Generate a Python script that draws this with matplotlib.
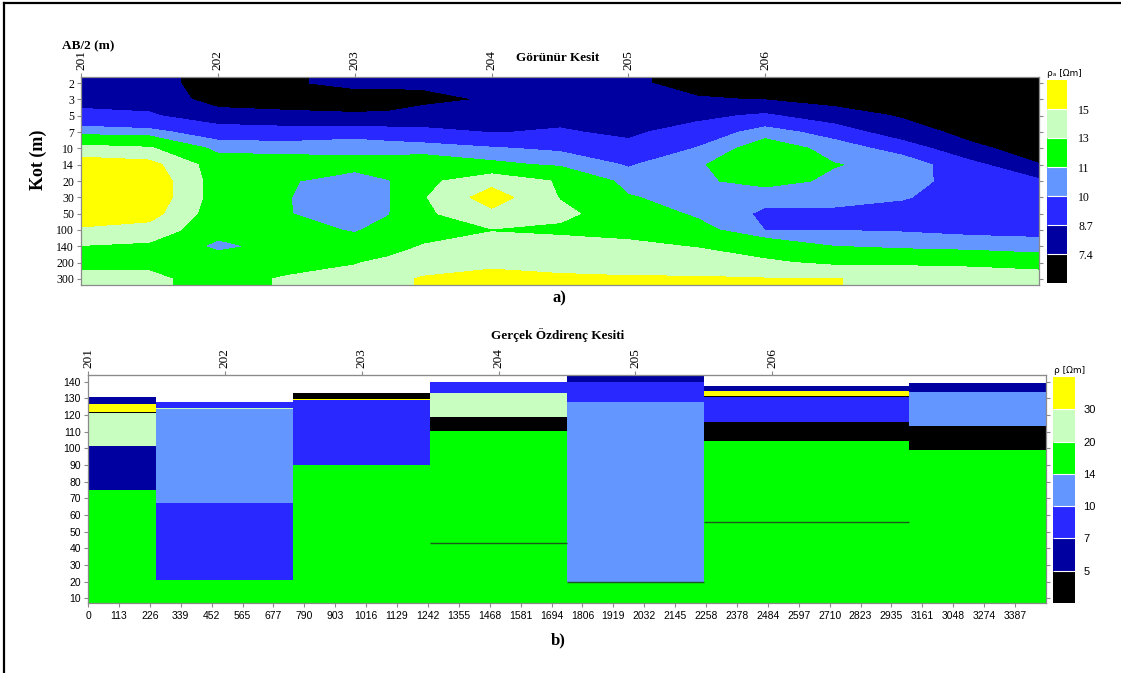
#!/usr/bin/env python3

# Resistivity sections along the 201-206 profile
# a) apparent resistivity pseudo-section, b) layered true resistivity section

import numpy as np
import matplotlib
matplotlib.use("Agg")
import matplotlib.pyplot as plt
from matplotlib.colors import ListedColormap, BoundaryNorm
from matplotlib.cm import ScalarMappable
from matplotlib.lines import Line2D

plt.rcParams['font.family'] = ['Liberation Serif', 'DejaVu Serif']

# station names and their distance along the profile (m)
stations = ['201', '202', '203', '204', '205', '206']
station_x = [0, 500, 1000, 1500, 2000, 2500]

# --- a) apparent resistivity (rows = AB/2 levels, columns = grid_x) ---
ab2_labels = ['2', '3', '5', '7', '10', '14', '20', '30', '50', '100', '140', '200', '300']
grid_x = [0, 250, 500, 750, 1000, 1125, 1250, 1500, 1750, 2000, 2250, 2500, 2750, 3000, 3250, 3500]
rho_a = [
    [7.9, 7.9, 6.8, 7.3, 7.6, 7.6, 7.6, 7.8, 8.0, 7.6, 7.0, 6.9, 6.8, 6.6, 6.5, 6.4],
    [8.2, 8.2, 6.9, 7.0, 7.0, 7.0, 7.1, 7.5, 8.2, 7.9, 7.5, 7.35, 7.0, 6.9, 6.6, 6.5],
    [9.1, 8.85, 7.9, 7.6, 7.5, 7.55, 7.9, 8.1, 8.4, 8.2, 8.4, 8.9, 7.9, 7.3, 6.8, 6.6],
    [10.5, 10.3, 9.4, 9.3, 9.4, 9.2, 9.0, 8.65, 8.8, 8.5, 9.2, 10.5, 9.5, 7.85, 7.1, 6.8],
    [13.6, 13.2, 10.6, 10.5, 10.75, 10.6, 10.5, 10.1, 9.8, 9.0, 10.05, 11.7, 10.6, 9.5, 7.6, 7.0],
    [16.2, 15.7, 11.9, 11.8, 11.3, 11.5, 11.8, 11.3, 10.8, 9.9, 10.8, 12.2, 11.05, 10.7, 9.1, 7.43],
    [17.0, 16.5, 12.0, 11.1, 10.6, 10.95, 12.5, 14.3, 12.8, 10.5, 10.8, 11.4, 10.8, 10.5, 9.4, 8.9],
    [17.0, 16.5, 12.0, 11.05, 10.4, 10.9, 12.8, 16.0, 12.9, 11.1, 10.5, 10.3, 10.3, 10.1, 9.4, 9.3],
    [16.3, 15.8, 11.8, 11.05, 10.5, 10.95, 12.6, 14.5, 13.5, 11.8, 10.8, 9.8, 9.8, 9.5, 9.5, 9.4],
    [14.7, 14.2, 11.6, 11.4, 10.9, 11.4, 12.3, 12.9, 12.6, 12.4, 11.5, 9.98, 9.98, 9.9, 9.8, 9.75],
    [12.9, 12.6, 10.6, 11.6, 11.5, 12.3, 13.1, 13.8, 13.8, 13.4, 12.9, 12.0, 11.0, 10.7, 10.4, 10.3],
    [12.4, 12.6, 12.0, 12.2, 12.9, 13.4, 14.0, 14.6, 14.4, 14.2, 14.0, 13.3, 12.6, 12.7, 12.85, 12.0],
    [13.6, 13.4, 12.2, 13.2, 13.6, 14.4, 15.2, 15.6, 15.3, 15.2, 15.2, 15.1, 15.1, 14.3, 13.4, 14.2],
]
rho_a_bounds = [6, 7.4, 8.7, 10, 11, 13, 15, 17]
rho_a_ticklabels = ['7.4', '8.7', '10', '11', '13', '15']

# --- b) true resistivity blocks ---
block_edges = [0, 250, 750, 1250, 1750, 2250, 3000, 3500]
layer_tops = [
    [131.0, 126.4, 122.0, 121.3, 101.6, 75.0],
    [128.0, 124.2, 123.4, 67.4, 21.0],
    [133.0, 129.8, 129.0, 90.0],
    [140.0, 133.2, 119.0, 110.6],
    [144.5, 140.0, 128.0, 20.0],
    [137.4, 134.3, 131.3, 130.7, 116.0, 104.2],
    [139.0, 133.6, 113.6, 99.0],
]
layer_rho = [
    [6, 35, 4, 25, 6, 16],
    [8, 22, 12, 8, 16],
    [4, 35, 8, 16],
    [8, 25, 4, 16],
    [6, 8, 12, 16],
    [6, 35, 4, 8, 4, 16],
    [6, 12, 4, 16],
]
# thin interface lines inside the deep layers: (start, end, elevation)
interfaces = [(1250, 1750, 43.0), (1750, 2250, 20.0), (2250, 3000, 56.0)]
rho_bounds = [3, 5, 7, 10, 14, 20, 30, 40]
rho_ticklabels = ['5', '7', '10', '14', '20', '30']

dist_labels = ['0', '113', '226', '339', '452', '565', '677', '790', '903', '1016',
               '1129', '1242', '1355', '1468', '1581', '1694', '1806', '1919', '2032',
               '2145', '2258', '2378', '2484', '2597', '2710', '2823', '2935', '3161',
               '3048', '3274', '3387']
elev_ticks = [140, 130, 120, 110, 100, 90, 80, 70, 60, 50, 40, 30, 20, 10]

palette = ['#000000', '#0000A0', '#2828FF', '#6496FF', '#00FF00', '#C8FFC0', '#FFFF00']
cmap = ListedColormap(palette)

W, H = 1121, 673
fig = plt.figure(figsize=(W / 100, H / 100), dpi=100)


def fx(px):
    return px / W


def fy(py):
    return 1 - py / H


def style_axes(ax):
    for sp in ax.spines.values():
        sp.set_color('#8a8a8a')
        sp.set_linewidth(0.9)
    ax.tick_params(which='both', color='#8a8a8a', length=3, width=0.8)


def legend_bar(cax, bounds, labels, family, size, pad):
    norm = BoundaryNorm(bounds, cmap.N)
    cb = fig.colorbar(ScalarMappable(norm=norm, cmap=cmap), cax=cax, boundaries=bounds,
                      spacing='uniform', ticks=bounds[1:-1], drawedges=True)
    cb.set_ticklabels(labels)
    cb.minorticks_off()
    cb.outline.set_visible(False)
    cb.dividers.set_color('white')
    cb.dividers.set_linewidth(0.8)
    cb.ax.tick_params(which='both', length=0, pad=pad, labelsize=size)
    for t in cb.ax.get_yticklabels():
        t.set_fontfamily(family)


# ---------------- a) ----------------
ax1 = fig.add_axes([fx(81), fy(285), fx(958), 208 / H])
z = np.array(rho_a)
rows = np.arange(len(ab2_labels))
# repeat the first and last rows so the fill reaches the frame edges
z_pad = np.vstack([z[0], z, z[-1]])
y_pad = np.concatenate([[-0.4], rows, [12.4]])
ax1.contourf(grid_x, y_pad, z_pad, levels=[0] + rho_a_bounds[1:-1] + [100], colors=palette)
ax1.set_xlim(0, 3500)
ax1.set_ylim(12.37, -0.37)
ax1.set_yticks(rows)
ax1.set_yticklabels(ab2_labels, fontsize=8.5)
ax1.xaxis.tick_top()
ax1.set_xticks(station_x)
ax1.set_xticklabels(stations, rotation=90, fontsize=9.5)
style_axes(ax1)
ax1.tick_params(axis='y', right=True, pad=2)
ax1.tick_params(axis='x', pad=2)

cax1 = fig.add_axes([fx(1047), fy(283), fx(20), 203 / H])
legend_bar(cax1, rho_a_bounds, rho_a_ticklabels, 'Liberation Serif', 8.5, 8)

fig.text(fx(62), fy(46), 'AB/2 (m)', fontsize=9.5, fontweight='bold', ha='left', va='center')
fig.text(fx(558), fy(58), 'Görünür Kesit', fontsize=9.5, fontweight='bold', ha='center', va='center')
fig.text(fx(38), fy(160), 'Kot (m)', fontsize=13, fontweight='bold', rotation=90,
         ha='center', va='center')
fig.text(fx(559), fy(298), 'a)', fontsize=12, fontweight='bold', ha='center', va='center')
fig.text(fx(1047), fy(74), 'ρₐ [Ωm]', fontsize=6.5, ha='left', va='center',
         family=['DejaVu Sans'])

# ---------------- b) ----------------
ax2 = fig.add_axes([fx(88), fy(603), fx(958), 228 / H])
norm_b = BoundaryNorm(rho_bounds, cmap.N)
for i, (tops, rhos) in enumerate(zip(layer_tops, layer_rho)):
    left, right = block_edges[i], block_edges[i + 1]
    bottoms = tops[1:] + [0]
    for top, bot, rho in zip(tops, bottoms, rhos):
        ax2.bar(left, top - bot, width=right - left, bottom=bot, align='edge',
                color=cmap(norm_b(rho)), linewidth=0)
for x0, x1, elev in interfaces:
    ax2.hlines(elev, x0, x1, color='#1d5a1d', linewidth=1.0)

ax2.set_xlim(0, 3500)
ax2.set_ylim(7.2, 144)
ax2.set_xticks(np.arange(len(dist_labels)) * 112.9)
ax2.set_xticklabels(dist_labels, fontsize=7.5, family='Liberation Sans')
ax2.set_yticks(elev_ticks)
ax2.set_yticklabels([str(v) for v in elev_ticks], fontsize=7.5, family='Liberation Sans')
style_axes(ax2)
ax2.tick_params(axis='y', right=True, pad=2)
ax2.tick_params(axis='x', pad=3)

top2 = ax2.secondary_xaxis('top')
top2.set_xticks(station_x)
top2.set_xticklabels(stations, rotation=90, fontsize=9.5)
top2.tick_params(color='#8a8a8a', length=3, pad=2)
top2.spines['top'].set_color('#8a8a8a')

cax2 = fig.add_axes([fx(1053), fy(603), fx(22), 226 / H])
legend_bar(cax2, rho_bounds, rho_ticklabels, 'Liberation Sans', 8, 6)

fig.text(fx(558), fy(335), 'Gerçek Özdirenç Kesiti', fontsize=9.5, fontweight='bold',
         ha='center', va='center')
fig.text(fx(558), fy(640), 'b)', fontsize=12, fontweight='bold', ha='center', va='center')
fig.text(fx(1054), fy(370), 'ρ [Ωm]', fontsize=6.5, ha='left', va='center',
         family=['DejaVu Sans'])

# page frame (left and top edges)
fig.add_artist(Line2D([fx(3.5), fx(3.5)], [0, fy(2.5)], color='black', linewidth=1.6))
fig.add_artist(Line2D([fx(3.5), 1], [fy(2.5), fy(2.5)], color='black', linewidth=1.6))

fig.savefig('out.png', dpi=100)
